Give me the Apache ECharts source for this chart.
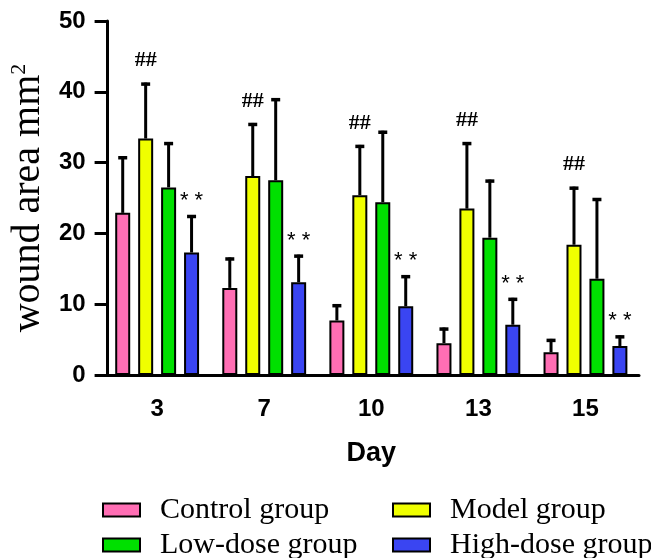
<!DOCTYPE html>
<html>
<head>
<meta charset="utf-8">
<script src="https://cdn.jsdelivr.net/npm/echarts@6/dist/echarts.min.js"></script>
<style>html,body{margin:0;padding:0;background:#fff}#c{width:651px;height:558px}</style>
</head>
<body>
<div id="c"></div>
<script>
const days = ['3', '7', '10', '13', '15'];
const seriesNames = ['Control group', 'Model group', 'Low-dose group', 'High-dose group'];
const controlMean = [22.9, 12.3, 7.7, 4.5, 3.2];
const controlSD   = [8.0, 4.3, 2.3, 2.2, 1.9];
const modelMean   = [33.4, 28.1, 25.4, 23.5, 18.4];
const modelSD     = [7.9, 7.5, 7.1, 9.4, 8.2];
const lowMean     = [26.5, 27.5, 24.4, 19.4, 13.6];
const lowSD       = [6.4, 11.6, 10.1, 8.2, 11.4];
const highMean    = [17.3, 13.1, 9.7, 7.1, 4.1];
const highSD      = [5.3, 3.9, 4.4, 3.8, 1.5];
const modelMarks  = ['##', '##', '##', '##', '##'];
const highMarks   = ['* *', '* *', '* *', '* *', '* *'];
const yTicks      = [0, 10, 20, 30, 40, 50];

const colors = ['#FF6EB4', '#F0FF00', '#00E000', '#3A45F2'];
const means = [controlMean, modelMean, lowMean, highMean];
const sds = [controlSD, modelSD, lowSD, highSD];
const marks = [null, modelMarks, null, highMarks];

const BAR_W = 15, BAR_GAP = 0.53;
const PITCH = BAR_W * (1 + BAR_GAP);

const chart = echarts.init(document.getElementById('c'), null, {renderer: 'canvas'});

const series = [];
means.forEach((m, i) => {
  series.push({
    name: seriesNames[i],
    type: 'bar',
    data: m,
    barWidth: BAR_W,
    barGap: (BAR_GAP * 100) + '%',
    itemStyle: {color: colors[i], borderColor: '#000', borderWidth: 2},
    z: 3
  });
});
means.forEach((m, i) => {
  const d = m.map((v, k) => [k, v, +(v + sds[i][k]).toFixed(2)]);
  series.push({
    type: 'custom',
    name: 'err' + i,
    data: d,
    z: 2,
    silent: true,
    renderItem: function (params, api) {
      const k = api.value(0);
      const p0 = api.coord([k, api.value(1)]);
      const p1 = api.coord([k, api.value(2)]);
      const x = p0[0] + (i - 1.5) * PITCH;
      const children = [
        {type: 'line', shape: {x1: x, y1: p0[1], x2: x, y2: p1[1]}, style: {stroke: '#000', lineWidth: 3}},
        {type: 'line', shape: {x1: x - 4.5, y1: p1[1] + 1.5, x2: x + 4.5, y2: p1[1] + 1.5}, style: {stroke: '#000', lineWidth: 3.5}}
      ];
      const mk = marks[i];
      if (mk && mk[params.dataIndex]) {
        const isHash = i === 1;
        children.push({
          type: 'text',
          style: {
            text: mk[params.dataIndex],
            x: x,
            y: p1[1] - (isHash ? 22 : 14),
            align: 'center',
            verticalAlign: 'middle',
            fill: '#000',
            font: isHash ? 'bold 22px "Liberation Serif"' : '22px "Liberation Sans"'
          }
        });
      }
      return {type: 'group', children: children};
    }
  });
});

const legendCommon = {
  orient: 'horizontal',
  padding: 0,
  itemWidth: 37,
  itemHeight: 13,
  icon: 'rect',
  itemStyle: {borderColor: '#000', borderWidth: 2},
  textStyle: {fontFamily: 'Liberation Serif', fontSize: 30, lineHeight: 30, color: '#000', padding: [0, 0, 0, 15]},
  selectedMode: false
};
const legendSlots = [
  {name: seriesNames[0], left: 102, top: 495},
  {name: seriesNames[1], left: 392, top: 495},
  {name: seriesNames[2], left: 102, top: 530},
  {name: seriesNames[3], left: 392, top: 530}
];

chart.setOption({
  animation: false,
  backgroundColor: '#fff',
  grid: {left: 101, right: 12, top: 21, bottom: 183},
  legend: legendSlots.map(s => Object.assign({}, legendCommon, {left: s.left, top: s.top, data: [s.name]})),
  xAxis: {
    type: 'category',
    data: days,
    name: 'Day',
    nameLocation: 'middle',
    nameGap: 65,
    nameTextStyle: {fontFamily: 'Liberation Sans', fontWeight: 'bold', fontSize: 27, color: '#000'},
    axisLine: {lineStyle: {color: '#000', width: 3}},
    axisTick: {alignWithLabel: true, length: 13, lineStyle: {color: '#000', width: 3}},
    axisLabel: {margin: 22, fontFamily: 'Liberation Sans', fontWeight: 'bold', fontSize: 24, color: '#000'}
  },
  yAxis: {
    type: 'value',
    min: yTicks[0],
    max: yTicks[yTicks.length - 1],
    interval: yTicks[1] - yTicks[0],
    offset: -4,
    name: '{a|wound area mm}{b|2}',
    nameLocation: 'middle',
    nameRotate: 90,
    nameGap: 52,
    nameTextStyle: {
      color: '#000',
      rich: {
        a: {fontFamily: 'Liberation Serif', fontSize: 40, color: '#000'},
        b: {fontFamily: 'Liberation Serif', fontSize: 22, color: '#000', verticalAlign: 'top'}
      }
    },
    splitLine: {show: false},
    axisLine: {show: true, lineStyle: {color: '#000', width: 3}},
    axisTick: {show: true, length: 13, lineStyle: {color: '#000', width: 3}},
    axisLabel: {margin: 22, fontFamily: 'Liberation Sans', fontWeight: 'bold', fontSize: 24, color: '#000'}
  },
  series: series
});
</script>
</body>
</html>
